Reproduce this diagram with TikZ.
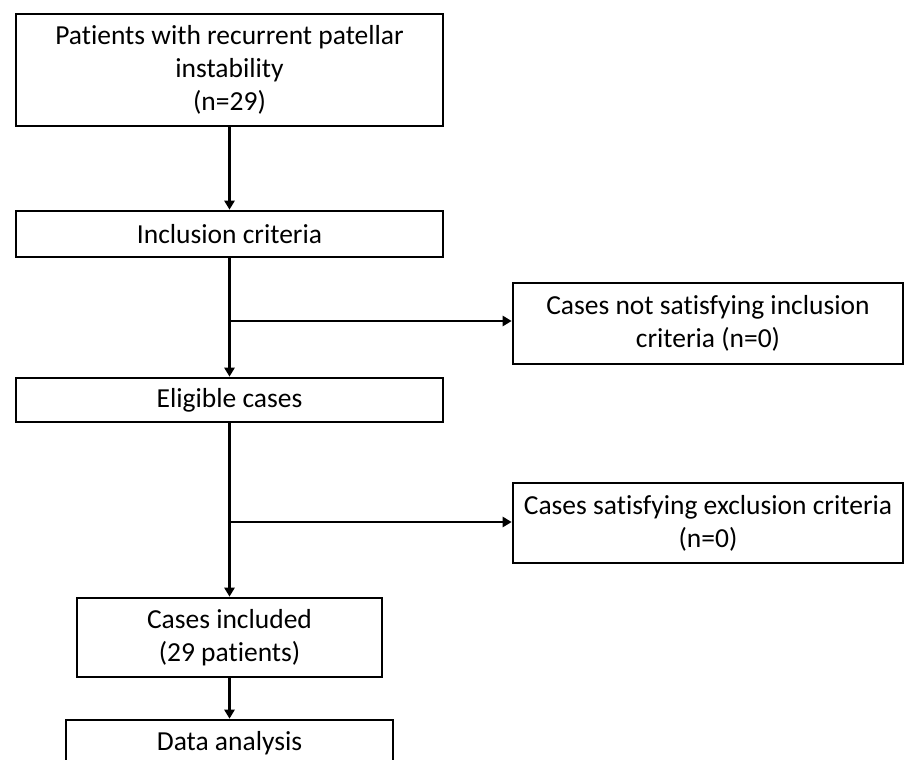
\documentclass[tikz,border=0pt]{standalone}
\usepackage{fontspec}
\setmainfont[RawFeature={-liga;-clig;-dlig;-calt}]{Carlito}
\usetikzlibrary{arrows.meta}
\tikzset{
  flowbox/.style={draw=black, line width=2.6pt, rectangle, align=center, inner sep=0pt,
    font=\fontsize{27.5}{33}\selectfont},
  conn/.style={draw=black, line width=2.4pt},
  arr/.style={conn, -{Triangle[length=9pt,width=10pt]}}
}
\begin{document}
\begin{tikzpicture}[x=1pt,y=-1pt]
\useasboundingbox (0,0) rectangle (905,760);
\clip (0,0) rectangle (905,760);
\node[flowbox, minimum width=427pt, minimum height=112pt] (pat) at (229.5,70)
  {Patients with recurrent patellar\\instability\\(n=29)};
\node[flowbox, minimum width=427pt, minimum height=46pt] (inc) at (229.5,234) {Inclusion criteria};
\node[flowbox, minimum width=390pt, minimum height=81pt] (notinc) at (708,323.5)
  {Cases not satisfying inclusion\\criteria (n=0)};
\node[flowbox, minimum width=427pt, minimum height=44pt] (elig) at (229.5,400) {Eligible cases};
\node[flowbox, minimum width=390pt, minimum height=80pt] (excl) at (708,523)
  {Cases satisfying exclusion criteria\\(n=0)};
\node[flowbox, minimum width=305pt, minimum height=79pt] (incl) at (229.5,637.5)
  {Cases included\\(29 patients)};
\node[flowbox, minimum width=327pt, minimum height=46pt] (data) at (229.5,743) {Data analysis};
\coordinate (b1) at (229.5,321);
\coordinate (b2) at (229.5,522);
\draw[arr] (pat.south) -- (inc.north);
\draw[conn] (inc.south) -- (b1);
\draw[arr] (b1) -- (elig.north);
\draw[arr] (b1) -- (b1 -| notinc.west);
\draw[conn] (elig.south) -- (b2);
\draw[arr] (b2) -- (incl.north);
\draw[arr] (b2) -- (b2 -| excl.west);
\draw[arr] (incl.south) -- (data.north);
\end{tikzpicture}
\end{document}
